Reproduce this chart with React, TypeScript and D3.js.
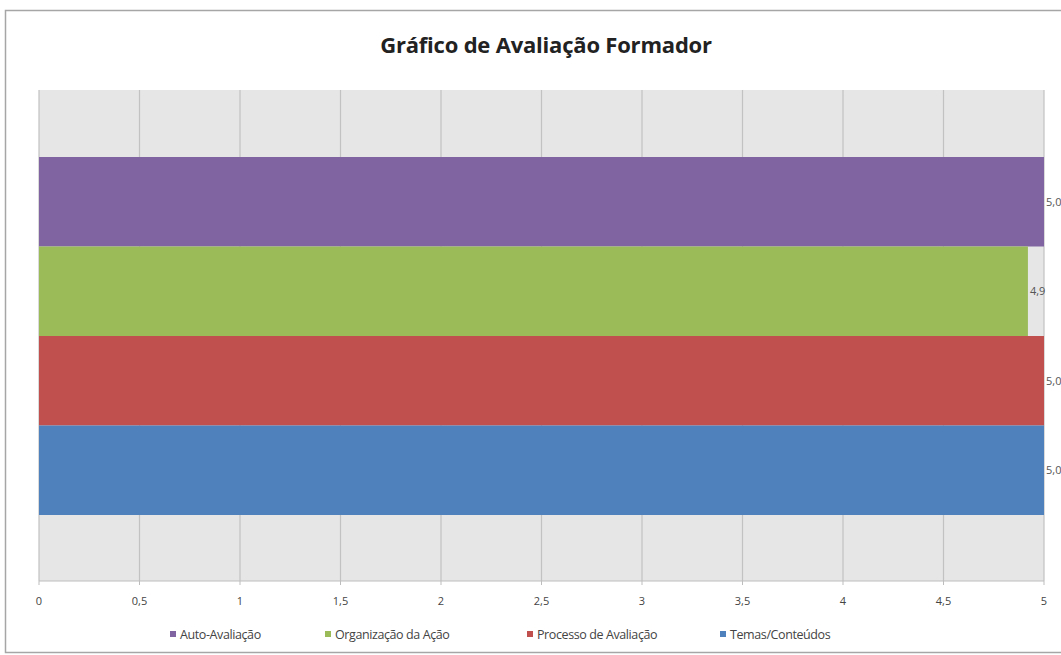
import React from "react";
import * as d3 from "d3";

const seriesNames = ["Auto-Avaliação", "Organização da Ação", "Processo de Avaliação", "Temas/Conteúdos"];
const seriesValues = [5.0, 4.92, 5.0, 5.0];
const valueLabels = ["5,0", "4,9", "5,0", "5,0"];
const seriesColors = ["#8064A2", "#9BBB59", "#C0504D", "#4F81BD"];
const xTicks = [0, 0.5, 1, 1.5, 2, 2.5, 3, 3.5, 4, 4.5, 5];

export default function App() {
  const W = 1061, H = 655;
  const left = 39, right = 1044, top = 90, bottom = 581;
  const x = d3.scaleLinear().domain([0, 5]).range([left, right]);
  const y = d3.scaleBand<string>().domain(seriesNames).range([157, 515]).padding(0);
  const fmt = (v: number) => String(v).replace(".", ",");
  const font = "'Open Sans', 'Liberation Sans', sans-serif";
  const legendX = [170, 325, 527, 720];
  return (
    <svg width={W} height={H} style={{ position: "absolute", left: 0, top: 0 }} fontFamily={font}>
      <rect x={0} y={0} width={W} height={H} fill="#fff" />
      <rect x={5.5} y={10.5} width={1070} height={642} fill="#fff" stroke="#a6a6a6" strokeWidth={1.5} />
      <text x={546} y={53} textAnchor="middle" fontSize={22} fontWeight="bold" fill="#222" letterSpacing={-0.2}>
        Gráfico de Avaliação Formador
      </text>
      <rect x={left} y={top} width={right - left} height={bottom - top} fill="#e6e6e6" />
      {xTicks.map((t) => (
        <line key={"g" + t} x1={x(t)} x2={x(t)} y1={top} y2={bottom} stroke="#c2c2c2" strokeWidth={1.2} />
      ))}
      {seriesNames.map((s, i) => (
        <rect key={s} x={x(0)} y={y(s)} width={x(seriesValues[i]) - x(0)} height={y.bandwidth()} fill={seriesColors[i]} />
      ))}
      {seriesNames.map((s, i) => (
        <text key={"l" + s} x={x(seriesValues[i]) + 2} y={(y(s) as number) + y.bandwidth() / 2 + 4} fontSize={11} fill="#555">
          {valueLabels[i]}
        </text>
      ))}
      <line x1={left} x2={right} y1={bottom} y2={bottom} stroke="#bdbdbd" strokeWidth={1.2} />
      {xTicks.map((t) => (
        <g key={"t" + t}>
          <line x1={x(t)} x2={x(t)} y1={bottom} y2={bottom + 4} stroke="#bdbdbd" />
          <text x={x(t)} y={605} textAnchor="middle" fontSize={11} fill="#444">{fmt(t)}</text>
        </g>
      ))}
      {seriesNames.map((s, i) => (
        <g key={"lg" + s}>
          <rect x={legendX[i]} y={631} width={6} height={6} fill={seriesColors[i]} />
          <text x={legendX[i] + 10} y={639} fontSize={12.5} fill="#444" letterSpacing={-0.4}>{s}</text>
        </g>
      ))}
    </svg>
  );
}
